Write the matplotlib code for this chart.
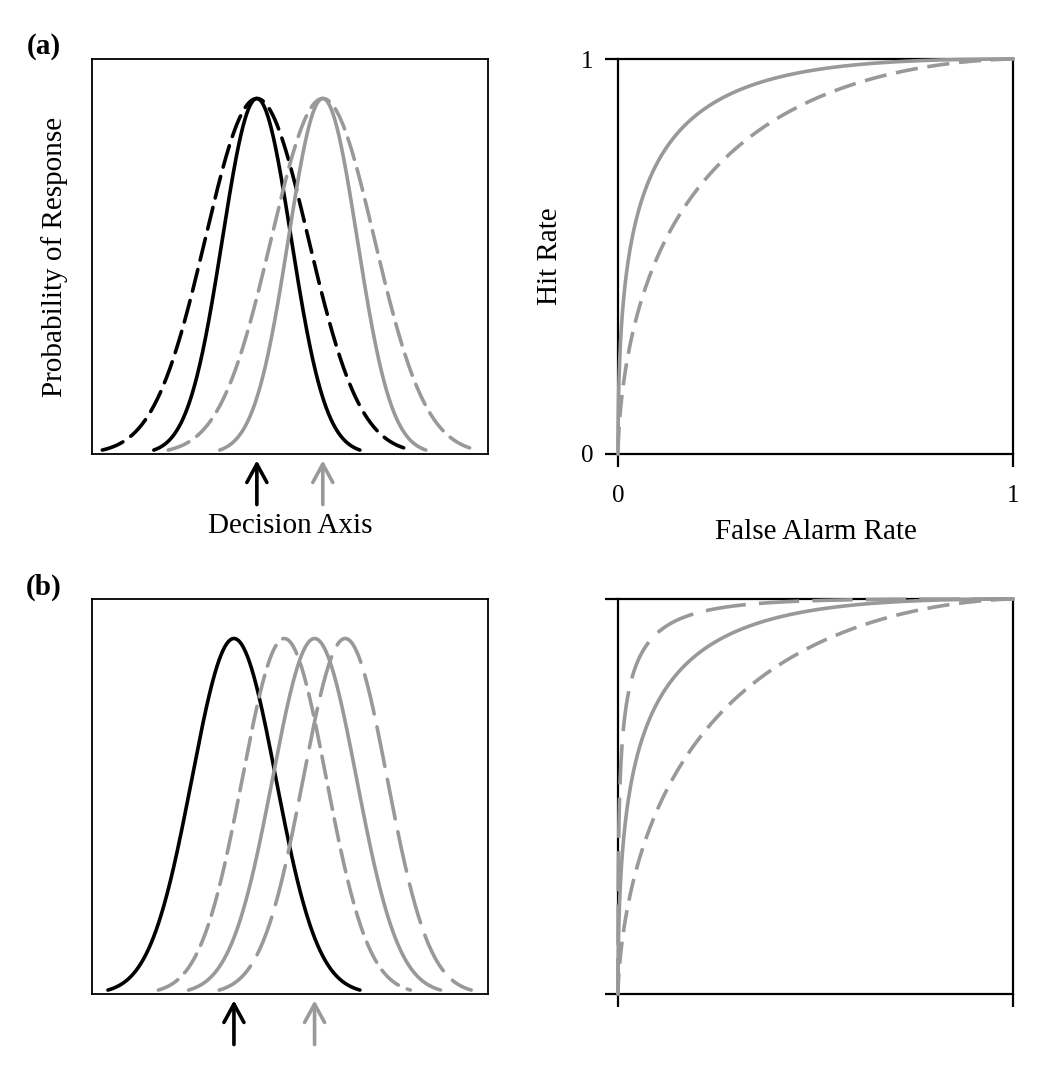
import math
import numpy as np
import matplotlib
matplotlib.use("Agg")
import matplotlib.pyplot as plt
import matplotlib.transforms as mtransforms

plt.rcParams['font.family'] = ['Liberation Serif', 'DejaVu Serif']
plt.rcParams['lines.scale_dashes'] = False

# panel (a): noise (black) and signal (grey) distributions, narrow (solid) and wide (dashed)
a_means = [0.0, 1.92]          # noise, signal
a_sds = [1.0, 1.5]             # solid, dashed
a_xlim = (-4.8, 6.73)

# panel (b): one noise distribution and three signal distributions
b_noise_mean = 0.0
b_signal_means = [1.2, 1.92, 2.65]     # short dash, solid, long dash
b_sd = 1.0
b_xlim = (-3.38, 6.05)

span_sd = 3.0      # curves drawn over mean +/- 3 sd
peak_frac = 0.9    # peak height as fraction of the panel

panel_labels = ['(a)', '(b)']
roc_ticks = [0, 1]
xlabel_dist = 'Decision Axis'
ylabel_dist = 'Probability of Response'
xlabel_roc = 'False Alarm Rate'
ylabel_roc = 'Hit Rate'

BLACK = '#000000'
GREY = '#999999'
LW = 2.6
SHORT = (0, (16, 7))
LONG = (0, (29, 9.5))


def bell(x, m, s):
    return np.exp(-0.5 * ((x - m) / s) ** 2)


def phi(z):
    return 0.5 * (1 + np.vectorize(math.erf)(z / math.sqrt(2)))


def roc(noise_m, sig_m, sd):
    c = np.linspace(-12, 14, 3000)
    fa = 1 - phi((c - noise_m) / sd)
    hit = 1 - phi((c - sig_m) / sd)
    return fa, hit


def dist_curve(ax, m, s, color, ls):
    x = np.linspace(m - span_sd * s, m + span_sd * s, 400)
    ax.plot(x, bell(x, m, s), color=color, lw=LW, linestyle=ls, solid_capstyle='round', dash_capstyle='round')


def arrow(ax, x, color):
    tr = mtransforms.blended_transform_factory(ax.transData, ax.transAxes)
    ax.annotate('', xy=(x, -0.016), xycoords=tr, xytext=(x, -0.128), textcoords=tr,
                annotation_clip=False,
                arrowprops=dict(arrowstyle='->,head_length=0.55,head_width=0.3', lw=LW,
                                color=color, shrinkA=0, shrinkB=0, mutation_scale=24))


def dist_axes(ax, xlim):
    ax.set_xlim(*xlim)
    ax.set_ylim(0, 1 / peak_frac)
    ax.set_xticks([])
    ax.set_yticks([])
    for s in ax.spines.values():
        s.set_linewidth(1.3)


def roc_axes(ax, labels):
    ax.set_xlim(0, 1)
    ax.set_ylim(0, 1)
    ax.set_xticks(roc_ticks)
    ax.set_yticks(roc_ticks)
    if not labels:
        ax.set_xticklabels([])
        ax.set_yticklabels([])
    ax.tick_params(length=9.5, width=1.6, labelsize=18)
    ax.tick_params(axis='x', pad=13)
    ax.tick_params(axis='y', pad=8)
    for s in ax.spines.values():
        s.set_linewidth(1.6)


fig = plt.figure(figsize=(10.5, 10.71), dpi=100)
W, H = 1050, 1071


def add_ax(x0, y0, x1, y1):
    return fig.add_axes([x0 / W, 1 - y1 / H, (x1 - x0) / W, (y1 - y0) / H])


ax1 = add_ax(92, 59, 488, 454)
ax2 = add_ax(618, 59, 1013, 454)
ax3 = add_ax(92, 599, 488, 994)
ax4 = add_ax(618, 599, 1013, 994)

# (a) distributions
dist_axes(ax1, a_xlim)
dist_curve(ax1, a_means[0], a_sds[1], BLACK, SHORT)
dist_curve(ax1, a_means[0], a_sds[0], BLACK, '-')
dist_curve(ax1, a_means[1], a_sds[1], GREY, SHORT)
dist_curve(ax1, a_means[1], a_sds[0], GREY, '-')
arrow(ax1, a_means[0], BLACK)
arrow(ax1, a_means[1], GREY)
ax1.set_xlabel(xlabel_dist, fontsize=21)
ax1.xaxis.set_label_coords(0.5, -0.15)
ax1.set_ylabel(ylabel_dist, fontsize=21)
ax1.yaxis.set_label_coords(-0.06, 0.5)

# (a) ROC
roc_axes(ax2, True)
fa, hit = roc(a_means[0], a_means[1], a_sds[0])
ax2.plot(fa, hit, color=GREY, lw=LW, clip_on=False, zorder=3)
fa, hit = roc(a_means[0], a_means[1], a_sds[1])
ax2.plot(fa, hit, color=GREY, lw=LW, linestyle=SHORT, clip_on=False, zorder=3)
ax2.set_xlabel(xlabel_roc, fontsize=21)
ax2.xaxis.set_label_coords(0.5, -0.165)
ax2.set_ylabel(ylabel_roc, fontsize=21)
ax2.yaxis.set_label_coords(-0.14, 0.5)

# (b) distributions
dist_axes(ax3, b_xlim)
dist_curve(ax3, b_noise_mean, b_sd, BLACK, '-')
dist_curve(ax3, b_signal_means[0], b_sd, GREY, SHORT)
dist_curve(ax3, b_signal_means[1], b_sd, GREY, '-')
dist_curve(ax3, b_signal_means[2], b_sd, GREY, LONG)
arrow(ax3, b_noise_mean, BLACK)
arrow(ax3, b_signal_means[1], GREY)

# (b) ROC
roc_axes(ax4, False)
styles = [SHORT, '-', LONG]
for m, ls in zip(b_signal_means, styles):
    fa, hit = roc(b_noise_mean, m, b_sd)
    ax4.plot(fa, hit, color=GREY, lw=LW, linestyle=ls, clip_on=False, zorder=3)

fig.text(44 / W, 1 - 46 / H, panel_labels[0], fontsize=21, fontweight='bold', ha='center', va='center')
fig.text(44 / W, 1 - 587 / H, panel_labels[1], fontsize=21, fontweight='bold', ha='center', va='center')

fig.savefig('out.png', dpi=100)
